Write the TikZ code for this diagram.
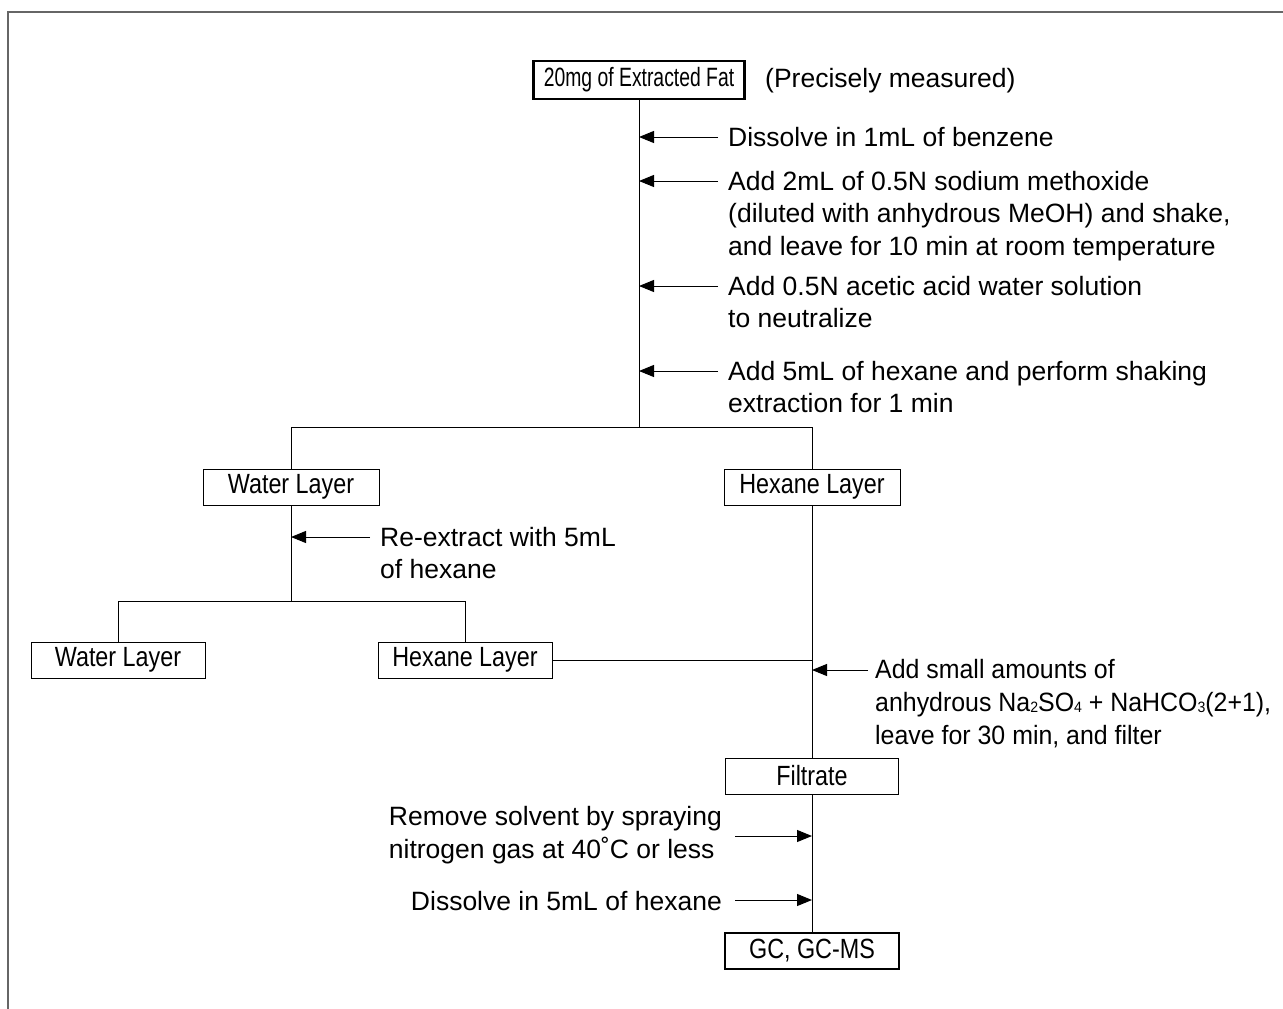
\documentclass[tikz,border=0pt]{standalone}
\usepackage{fontspec}
\setmainfont{Liberation Sans}
\newfontfamily\boxfont[FakeStretch=0.84]{Liberation Sans}
\newfontfamily\fatfont[FakeStretch=0.73]{Liberation Sans}
\newfontfamily\narrowfont[FakeStretch=0.94]{Liberation Sans}
\usetikzlibrary{arrows.meta}
\newcommand{\sbs}[1]{\raisebox{-0.05em}{\fontsize{15}{15}\selectfont #1}}
\tikzset{
  txt/.style={font=\fontsize{26.5}{32.5}\selectfont, inner sep=0pt, align=left},
  lbox/.style={draw, line width=1pt, minimum width=174pt, minimum height=36pt, inner sep=0pt, font=\boxfont\fontsize{27.8}{30}\selectfont},
  tbox/.style={lbox, line width=2.5pt},
  arr/.style={-{Triangle[length=15pt,width=12pt]}, line width=1pt},
  ln/.style={line width=1pt},
  frame/.style={draw=black!60, line width=1.5pt}
}
\begin{document}
\begin{tikzpicture}[x=1pt,y=-1pt]
\useasboundingbox (0,0) rectangle (1283,1009);
\draw[frame] (1283,12) -- (8,12) -- (8,1009);

% top
\node[tbox, minimum width=211pt, minimum height=38pt, font=\fatfont\fontsize{26.5}{28}\selectfont] (fat) at (639,80) {20mg of Extracted Fat};
\node[txt, anchor=west] (prec) at (765,81) {(Precisely measured)};
\coordinate (j1) at (639,427);
\draw[ln] (fat.south) -- (j1);

\coordinate (a1) at (718,137);
\coordinate (a2) at (718,181);
\coordinate (a3) at (718,286);
\coordinate (a4) at (718,371);
\draw[arr] (a1) -- (a1 -| j1);
\draw[arr] (a2) -- (a2 -| j1);
\draw[arr] (a3) -- (a3 -| j1);
\draw[arr] (a4) -- (a4 -| j1);
\node[txt, anchor=north west] (t1) at (728,127) {Dissolve in 1mL of benzene};
\node[txt, anchor=north west] (t2) at (728,171) {Add 2mL of 0.5N sodium methoxide\\(diluted with anhydrous MeOH) and shake,\\and leave for 10 min at room temperature};
\node[txt, anchor=north west] (t3) at (728,276) {Add 0.5N acetic acid water solution\\to neutralize};
\node[txt, anchor=north west] (t4) at (728,361) {Add 5mL of hexane and perform shaking\\extraction for 1 min};

% first split
\node[lbox, minimum width=176pt] (wl1) at (291,487) {Water Layer};
\node[lbox, minimum width=176pt] (hl1) at (812,487) {Hexane Layer};
\draw[ln] (wl1.north) -- (wl1.north |- j1) -- (hl1.north |- j1) -- (hl1.north);

% re-extract
\coordinate (j2) at (291,601);
\draw[ln] (wl1.south) -- (j2);
\coordinate (a5) at (370,537);
\draw[arr] (a5) -- (a5 -| j2);
\node[txt, anchor=north west] (t5) at (380,527) {Re-extract with 5mL\\of hexane};

\node[lbox] (wl2) at (118,660) {Water Layer};
\node[lbox] (hl2) at (465,660) {Hexane Layer};
\draw[ln] (wl2.north) -- (wl2.north |- j2) -- (hl2.north |- j2) -- (hl2.north);

% right column
\node[lbox, minimum width=173pt] (filt) at (812,776) {Filtrate};
\node[tbox] (gc) at (812,951) {GC, GC-MS};
\draw[ln] (hl1.south) -- (filt.north);
\draw[ln] (hl2.east) -- (hl2.east -| hl1.south);
\coordinate (a6) at (868,670);
\draw[arr] (a6) -- (a6 -| filt);
\node[txt, anchor=north west, font=\narrowfont\fontsize{26.5}{33}\selectfont] (t6) at (875,659) {Add small amounts of\\anhydrous Na\sbs{2}SO\sbs{4} + NaHCO\sbs{3}(2+1),\\leave for 30 min, and filter};

\draw[ln] (filt.south) -- (gc.north);
\coordinate (a7) at (735,836);
\coordinate (a8) at (735,900);
\draw[arr] (a7) -- (a7 -| filt);
\draw[arr] (a8) -- (a8 -| filt);
\node[txt, anchor=east] (t7) at (722,835) {Remove solvent by spraying\\nitrogen gas at 40˚C or less};
\node[txt, anchor=east] (t8) at (722,901) {Dissolve in 5mL of hexane};
\end{tikzpicture}
\end{document}
